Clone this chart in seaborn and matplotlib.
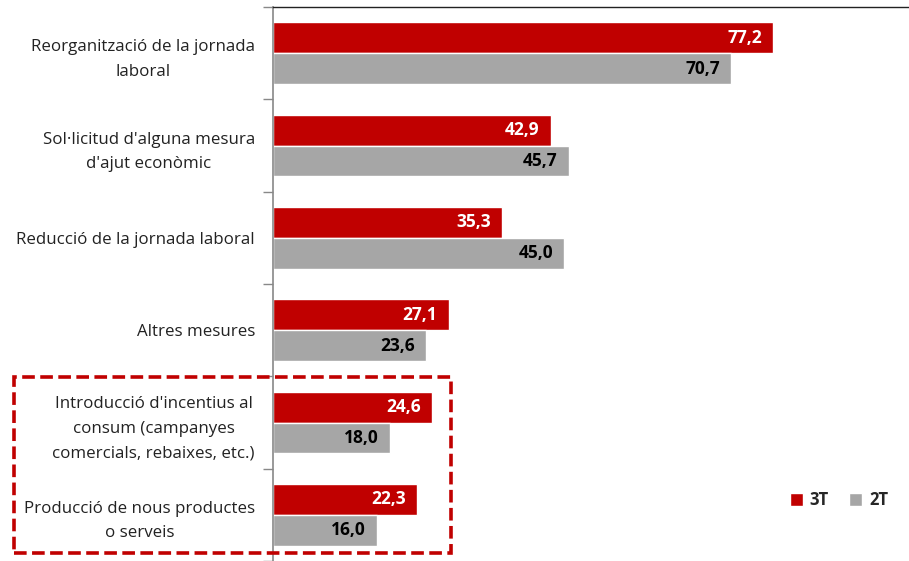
import pandas as pd
import matplotlib.pyplot as plt
import seaborn as sns
from matplotlib.patches import Rectangle, Patch

# Data
categories = [
    "Reorganització de la jornada\nlaboral",
    "Sol·licitud d'alguna mesura\nd'ajut econòmic",
    "Reducció de la jornada laboral",
    "Altres mesures",
    "Introducció d'incentius al\nconsum (campanyes\ncomercials, rebaixes, etc.)",
    "Producció de nous productes\no serveis",
]
series = ["3T", "2T"]
values_3t = [77.2, 42.9, 35.3, 27.1, 24.6, 22.3]
values_2t = [70.7, 45.7, 45.0, 23.6, 18.0, 16.0]

colors = {"3T": "#C00000", "2T": "#A6A6A6"}

df = pd.DataFrame({
    "Categoria": categories * 2,
    "Trimestre": ["3T"] * len(categories) + ["2T"] * len(categories),
    "Valor": values_3t + values_2t,
})

sns.set_style("white")
plt.rcParams["font.family"] = ["Open Sans", "DejaVu Sans"]

fig = plt.figure(figsize=(9.09, 5.61), dpi=100)
ax = fig.add_axes([273 / 909, 0.0, 1 - 273 / 909, 1 - 7 / 561])

sns.barplot(data=df, y="Categoria", x="Valor", hue="Trimestre", orient="h",
            palette=colors, hue_order=series, order=categories, width=0.67,
            saturation=1, legend=False, ax=ax)

ax.set_xlim(0, 98.2)
ax.set_ylim(5.5, -0.5)
ax.set_xlabel("")
ax.set_ylabel("")
ax.set_xticks([])

# labels on bars
for cont, s in zip(ax.containers, series):
    texts = ax.bar_label(cont, labels=[f"{v:.1f}".replace(".", ",") for v in cont.datavalues],
                         padding=-8, label_type="edge", fontsize=12.5, fontweight="bold",
                         color="white" if s == "3T" else "black")
    for t in texts:
        t.set_ha("right")

# y axis: category ticks without marks, boundary marks as minor ticks
ax.set_yticks(range(len(categories)))
ax.set_yticklabels(categories, fontsize=12.2, color="#222222",
                   multialignment="center", linespacing=1.7)
ax.tick_params(axis="y", which="major", length=0, pad=13)
ax.set_yticks([i - 0.5 for i in range(len(categories) + 1)], minor=True)
ax.tick_params(axis="y", which="minor", length=7, width=1, color="#888888", left=True)

for side in ["right", "bottom"]:
    ax.spines[side].set_visible(False)
ax.spines["left"].set_color("#888888")
ax.spines["left"].set_linewidth(1.2)
ax.spines["top"].set_color("#222222")
ax.spines["top"].set_linewidth(1.0)

# legend
handles = [Patch(facecolor=colors[s], label=s) for s in series]
leg = fig.legend(handles=handles, loc="center", bbox_to_anchor=(839 / 909, 1 - 500 / 561),
                 ncol=2, frameon=False, handlelength=0.8, handleheight=0.8,
                 columnspacing=1.2, handletextpad=0.4, prop={"weight": "bold", "size": 12})

# dashed highlight box
fig.patches.append(Rectangle((14 / 909, 8 / 561), (451 - 14) / 909, (553 - 377) / 561,
                             transform=fig.transFigure, fill=False, edgecolor="#C00000",
                             linestyle=(0, (3.5, 1.5)), linewidth=2.6))

fig.savefig("out.png", dpi=100)
